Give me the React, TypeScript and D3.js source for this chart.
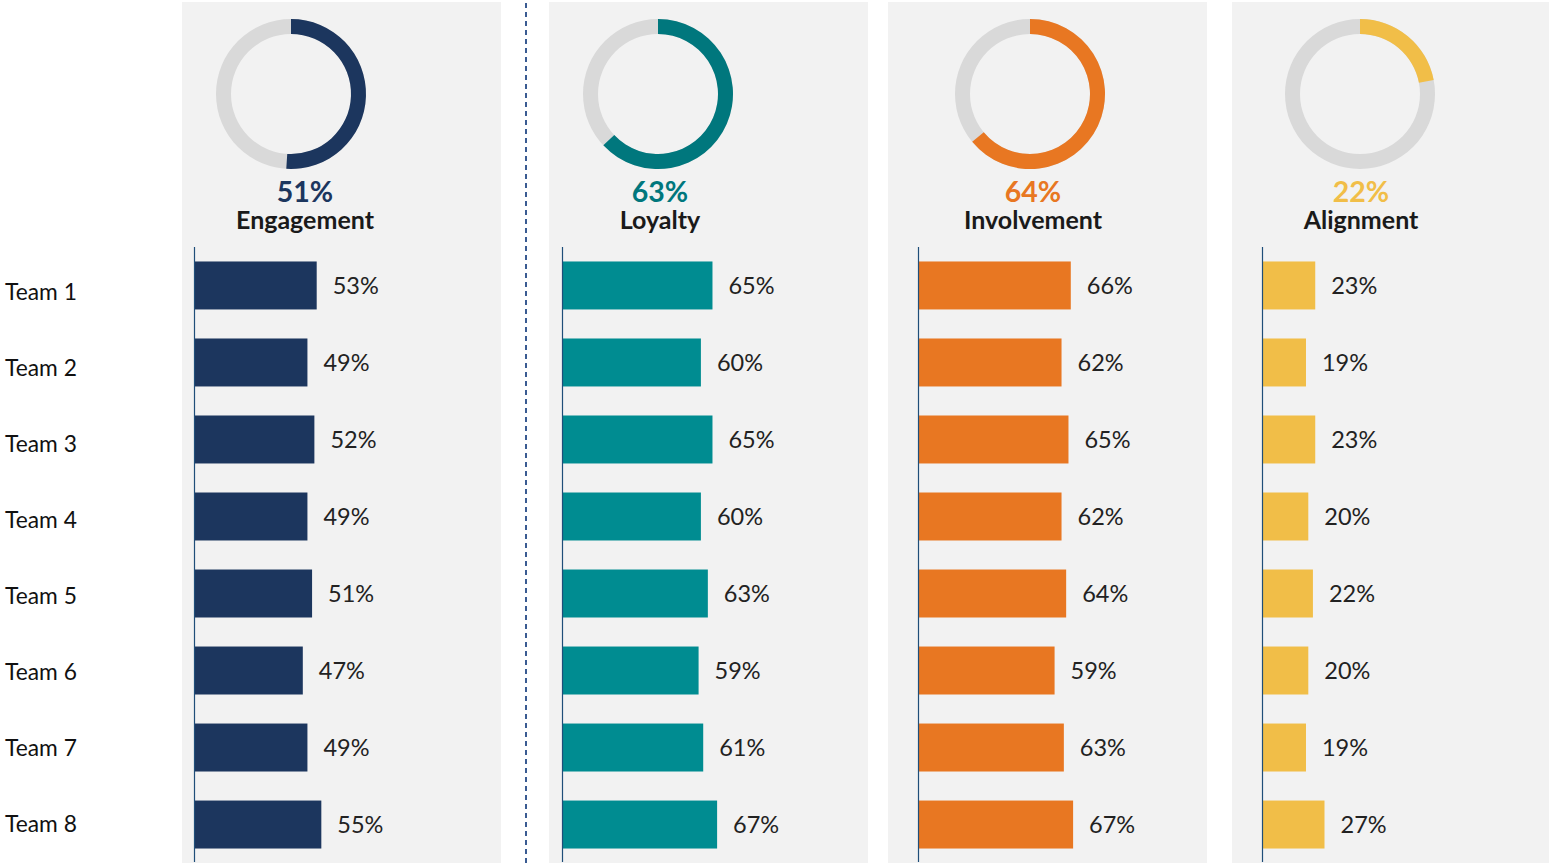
import React from 'react';
import * as d3 from 'd3';

const teams = ['Team 1', 'Team 2', 'Team 3', 'Team 4', 'Team 5', 'Team 6', 'Team 7', 'Team 8'];
const metrics = ['Engagement', 'Loyalty', 'Involvement', 'Alignment'];
const overall = [51, 63, 64, 22];
const engagement = [53, 49, 52, 49, 51, 47, 49, 55];
const loyalty = [65, 60, 65, 60, 63, 59, 61, 67];
const involvement = [66, 62, 65, 62, 64, 59, 63, 67];
const alignment = [23, 19, 23, 20, 22, 20, 19, 27];
const seriesValues = [engagement, loyalty, involvement, alignment];

// styling / layout (not data)
const barColors = ['#1C365E', '#008C91', '#E87722', '#F1BE48'];
const donutColors = ['#1C365E', '#00777D', '#E87722', '#F1BE48'];
const panelLayout = [
  { x: 182, axisX: 194, donutX: 291, textX: 305 },
  { x: 549, axisX: 562, donutX: 658, textX: 660 },
  { x: 888, axisX: 918, donutX: 1030, textX: 1033 },
  { x: 1232, axisX: 1262, donutX: 1360, textX: 1361 },
];
const W = 1549;
const H = 866;
const FONT = 'Lato, "Open Sans", sans-serif';

export default function App() {
  const y = d3.scaleBand<string>().domain(teams).range([247, 863]).paddingInner(0.377).paddingOuter(0.188);
  const labelY = d3.scalePoint<string>().domain(teams).range([300, 832]);
  const x = d3.scaleLinear().domain([0, 100]).range([0, 231.5]);
  const arc = d3.arc<any>().innerRadius(60).outerRadius(75);
  const donutY = 94;

  return (
    <svg width={W} height={H} style={{ position: 'absolute', left: 0, top: 0, display: 'block' }} fontFamily={FONT}>
      <rect x={0} y={0} width={W} height={H} fill="#FFFFFF" />
      {panelLayout.map((p, i) => (
        <rect key={'bg' + i} x={p.x} y={2} width={319} height={861} fill="#F2F2F2" />
      ))}
      <line x1={526} x2={526} y1={3} y2={866} stroke="#3A5B92" strokeWidth={2} strokeDasharray="5 4" />
      {teams.map((t) => (
        <text key={t} x={5} y={labelY(t)} fontSize={22.8} fill="#111111">{t}</text>
      ))}
      {metrics.map((m, i) => {
        const p = panelLayout[i];
        const v = overall[i];
        const vals = seriesValues[i];
        return (
          <g key={m}>
            <g transform={`translate(${p.donutX},${donutY})`}>
              <path d={arc({ startAngle: 0, endAngle: Math.PI * 2 }) as string} fill="#D9D9D9" />
              <path d={arc({ startAngle: 0, endAngle: (v / 100) * Math.PI * 2 }) as string} fill={donutColors[i]} />
            </g>
            <text x={p.textX} y={202} textAnchor="middle" fontSize={28.5} fontWeight={700} fill={donutColors[i]}>{v}%</text>
            <text x={p.textX} y={229} textAnchor="middle" fontSize={25} fontWeight={700} fill="#1A1A1A">{m}</text>
            {teams.map((t, j) => (
              <g key={t}>
                <rect x={p.axisX} y={y(t)} width={x(vals[j])} height={y.bandwidth()} fill={barColors[i]} />
                <text x={p.axisX + x(vals[j]) + 16} y={(y(t) as number) + y.bandwidth() / 2 + 8.5} fontSize={23.5} fill="#222222">{vals[j]}%</text>
              </g>
            ))}
            <line x1={p.axisX + 0.5} x2={p.axisX + 0.5} y1={247} y2={862} stroke="#1F4E79" strokeWidth={1.2} />
          </g>
        );
      })}
    </svg>
  );
}
